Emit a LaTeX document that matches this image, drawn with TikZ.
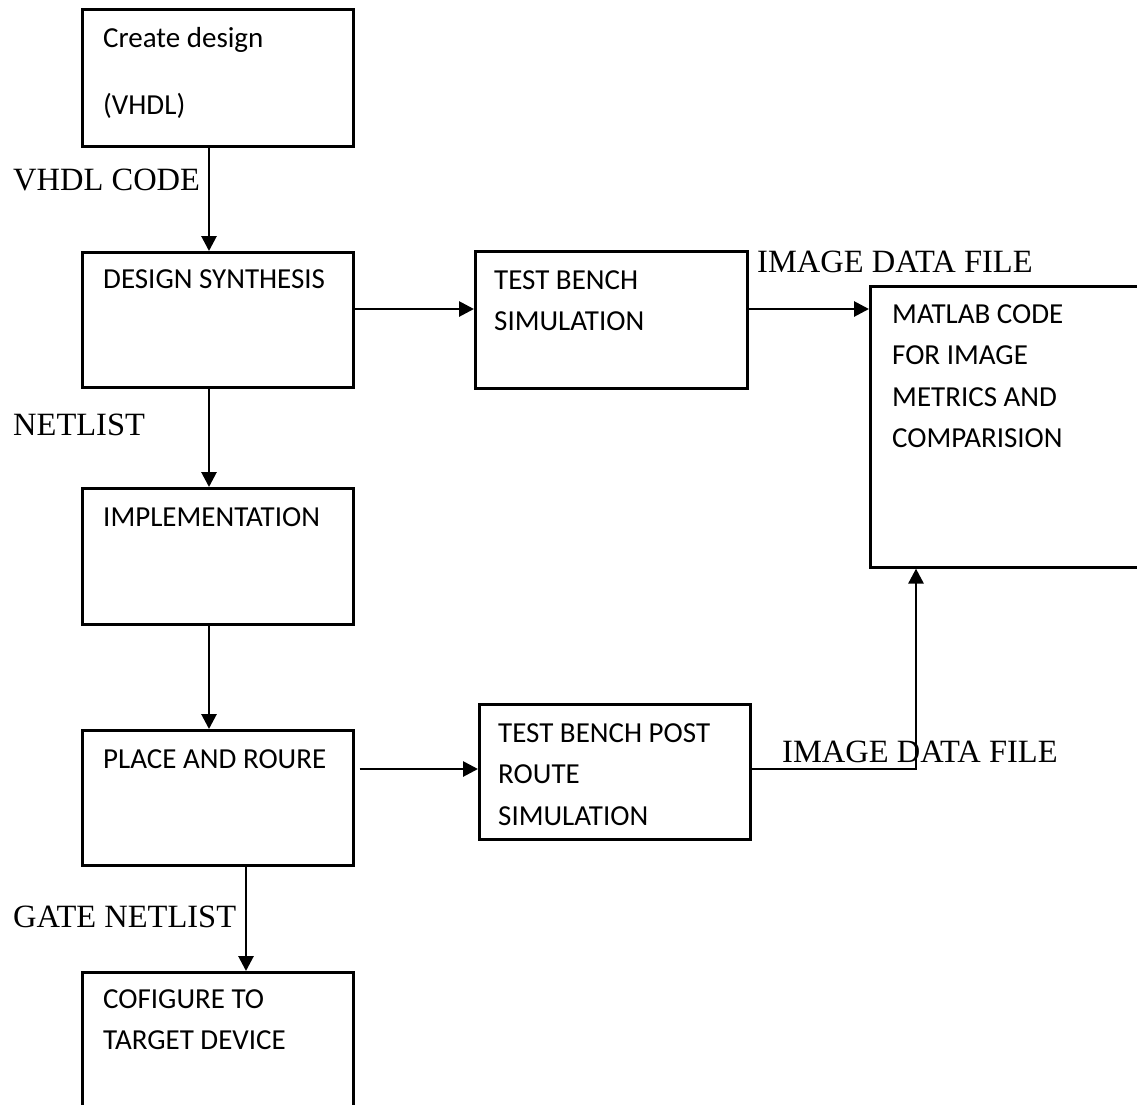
\documentclass[tikz,border=0pt]{standalone}
\usepackage{fontspec}
\setmainfont{Liberation Serif}
\newfontfamily\calib{Carlito}
\usetikzlibrary{arrows.meta,calc}
\begin{document}
\begin{tikzpicture}[x=1pt,y=-1pt,
  box/.style={draw, line width=2.6pt, rectangle, inner sep=0pt, anchor=north west, minimum width=271pt},
  boxtext/.style={anchor=base west, inner sep=0pt, font=\calib\fontsize{29}{41.5}\selectfont},
  lbl/.style={anchor=base west, inner sep=0pt, font=\fontsize{32.5}{38}\selectfont},
  arr/.style={line width=2.8pt, -{Triangle[length=15pt,width=15pt]}},
  ln/.style={line width=2.8pt}]
\useasboundingbox (0,0) rectangle (1137,1104);
\clip (0,0) rectangle (1137,1104);
% boxes
\node[box, minimum height=137pt] (b1) at (81,8) {};
\node[box, minimum height=135pt] (b2) at (81,251) {};
\node[box, minimum height=137pt, minimum width=272pt] (b3) at (474,250) {};
\node[box, minimum height=281pt] (b4) at (869,285) {};
\node[box, minimum height=136pt] (b5) at (81,487) {};
\node[box, minimum height=135pt] (b6) at (81,729) {};
\node[box, minimum height=135pt] (b7) at (478,703) {};
\node[box, minimum height=150pt] (b8) at (81,971) {};
% box texts
\node[boxtext] (t1) at (103,47) {\begin{tabular}[t]{@{}l@{}}Create design\\[25.5pt](VHDL)\end{tabular}};
\node[boxtext] (t2) at (103,288) {DESIGN SYNTHESIS};
\node[boxtext] (t3) at (494,289) {\begin{tabular}[t]{@{}l@{}}TEST BENCH\\SIMULATION\end{tabular}};
\node[boxtext] (t4) at (892,323) {\begin{tabular}[t]{@{}l@{}}MATLAB CODE\\FOR IMAGE\\METRICS AND\\COMPARISION\end{tabular}};
\node[boxtext] (t5) at (103,526) {IMPLEMENTATION};
\node[boxtext] (t6) at (103,768) {PLACE AND ROURE};
\node[boxtext] (t7) at (498,742) {\begin{tabular}[t]{@{}l@{}}TEST BENCH POST\\ROUTE\\SIMULATION\end{tabular}};
\node[boxtext] (t8) at (103,1008) {\begin{tabular}[t]{@{}l@{}}COFIGURE TO\\TARGET DEVICE\end{tabular}};
% connector labels
\node[lbl] (l1) at (13,190) {VHDL CODE};
\node[lbl] (l2) at (13,435) {NETLIST};
\node[lbl] (l3) at (13,927) {GATE NETLIST};
\node[lbl] (l4) at (757,272) {IMAGE DATA FILE};
% connectors
\draw[arr] ([xshift=128pt]b1.south west) -- ([xshift=128pt]b2.north west);
\coordinate (p23) at ([yshift=-58pt]b2.north east);
\draw[arr] (p23) -- (p23 -| b3.west);
\coordinate (p34) at ([yshift=-59pt]b3.north east);
\draw[arr] (p34) -- (p34 -| b4.west);
\draw[arr] ([xshift=128pt]b2.south west) -- ([xshift=128pt]b5.north west);
\draw[arr] ([xshift=128pt]b5.south west) -- ([xshift=128pt]b6.north west);
\coordinate (p67) at ([xshift=5pt,yshift=-40pt]b6.north east);
\draw[arr] (p67) -- (p67 -| b7.west);
\coordinate (p74) at ([yshift=-66pt]b7.north east);
\coordinate (c74) at ([xshift=47pt]b4.south west);
\draw[arr] (p74) -- (p74 -| c74) -- (c74);
\draw[arr] ([xshift=165pt]b6.south west) -- ([xshift=165pt]b8.north west);
\node[lbl] (l5) at (782,762) {IMAGE DATA FILE};
\end{tikzpicture}
\end{document}
